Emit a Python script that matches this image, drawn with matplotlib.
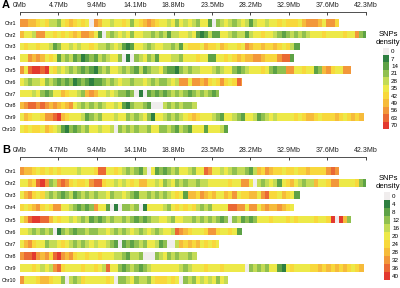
import numpy as np
import matplotlib.pyplot as plt
from matplotlib.colors import ListedColormap, BoundaryNorm

plt.rcParams['font.family'] = ['Liberation Sans', 'DejaVu Sans']

# chromosome names and lengths (Mb)
chrom_names = ['Chr1', 'Chr2', 'Chr3', 'Chr4', 'Chr5', 'Chr6', 'Chr7', 'Chr8', 'Chr9', 'Chr10']
chrom_len = [39.0, 42.3, 34.2, 33.5, 40.5, 27.2, 24.4, 21.7, 42.1, 25.4]
bin_size = 0.5

tick_pos = [0, 4.7, 9.4, 14.1, 18.8, 23.5, 28.2, 32.9, 37.6, 42.3]
tick_labels = ['0Mb', '4.7Mb', '9.4Mb', '14.1Mb', '18.8Mb', '23.5Mb', '28.2Mb', '32.9Mb', '37.6Mb', '42.3Mb']

# density class per 0.5 Mb bin (0..A = class index of the legend)
levels_a = [
    '887765644356765650875545565356787655453545435520345434542455455656665788875886',
    '7554885565656768875204345453554434342445545212422554344245565543234343455565555655832',
    '56556554235545455654434542125543455443425666576657655658766766765642',
    '5587875652434231232434553010345342555443555655225565676778876668992',
    '859AA9A5645434323213435543432423445322134344555434553234555653233885565523786558' + '8',
    '543445343232312321223434544344543433454885887865686' + '5698',
    '5554532355765543787554543323010232323434323434323',
    '7899898787678543434345545213443200043434334',
    '576556889A76555423435554553434531554343456765554325543255423454555565677656667656767',
    '565665765421323435545540343434435533432432555255542',
]
levels_b = [
    '877656565655554555699556543432405232343554355985545434432476876656656676666898',
    '55769A834898656658996554545657755453453434434455555655885043454256754344755688555563' + '2',
    '57865643432342343434453445432443434345652776876755768566775896657652',
    '6567865688554323238552010334301555543565656434355559988588578778765',
    '579AA9975655454342323434434323234455435544343434323034232355565556565555655' + '6A0A73',
    '554343430134323343344543434543454345549876555688655652',
    '5786553445654343454554320232343554230047676756565',
    '899A87869A878655655655544324430003453434434',
    '555654548965555655654955323432345555555434555655565555503434355215655556676767676567',
    '855567765530434655555650334534435666565034354545354',
]
step_a = 7
step_b = 4

colors = ['#f0eded', '#2e7f40', '#5da246', '#90c04f', '#c3db55', '#ede948',
          '#f8d83c', '#f6bb3b', '#f2973a', '#ea6934', '#e3392f']

W, H = 400, 288


def box(x0, y0, x1, y1):
    return [x0 / W, 1 - y1 / H, (x1 - x0) / W, (y1 - y0) / H]


def draw_panel(levels, step, line_y, c1, sp, bar_h, cbar_box, title_y, letter, letter_y):
    top = -(c1 - line_y) / sp
    bottom = 9.6
    ax = fig.add_axes(box(20, line_y, 365.7, c1 + bottom * sp))
    cmap = ListedColormap(colors)
    norm = BoundaryNorm((np.arange(12) - 0.5) * step, cmap.N)
    for i, (s, L) in enumerate(zip(levels, chrom_len)):
        vals = np.array([int(c, 16) for c in s]) * step
        edges = np.arange(len(vals) + 1) * bin_size
        edges[-1] = L
        ax.pcolormesh(edges, [i - bar_h / 2, i + bar_h / 2], vals[None, :],
                      cmap=cmap, norm=norm, shading='flat', linewidth=0)
    ax.set_xlim(0, 42.3)
    ax.set_ylim(bottom, top)
    for side in ['bottom', 'left', 'right']:
        ax.spines[side].set_visible(False)
    ax.spines['top'].set_linewidth(0.6)
    ax.spines['top'].set_color('#333333')
    ax.xaxis.tick_top()
    ax.set_xticks(tick_pos)
    ax.set_xticklabels(tick_labels)
    ax.tick_params(axis='x', direction='in', length=2.5, width=0.6, pad=2,
                   labelsize=5, colors='#222222')
    ax.set_yticks(range(10))
    ax.set_yticklabels(chrom_names)
    ax.tick_params(axis='y', length=0, pad=3, labelsize=3.8)

    # discrete legend bar
    cax = fig.add_axes(box(*cbar_box))
    cvals = np.arange(11) * step
    cax.pcolormesh([0, 1], np.arange(12) - 0.5, cvals[:, None], cmap=cmap, norm=norm)
    cax.set_ylim(10.5, -0.5)
    cax.set_xlim(0, 1)
    cax.set_xticks([])
    cax.yaxis.tick_right()
    cax.set_yticks(range(11))
    cax.set_yticklabels([str(v) for v in cvals])
    cax.tick_params(axis='y', length=0, pad=1.5, labelsize=4.5)
    for sp_ in cax.spines.values():
        sp_.set_visible(False)
    fig.text(388 / W, 1 - title_y / H, 'SNPs', ha='center', va='center', fontsize=5.5)
    fig.text(388 / W, 1 - (title_y + 8) / H, 'density', ha='center', va='center', fontsize=5.5)
    fig.text(2 / W, 1 - letter_y / H, letter, ha='left', va='center',
             fontsize=8, fontweight='bold')


fig = plt.figure(figsize=(4, 2.88), dpi=100)
draw_panel(levels_a, step_a, 12, 22.8, 11.8, 0.65, (383, 47.5, 389, 129), 34, 'A', 5)
draw_panel(levels_b, step_b, 157, 171, 12.13, 0.62, (384, 191.5, 390, 280), 179, 'B', 150)

fig.savefig('out.png', dpi=100)
